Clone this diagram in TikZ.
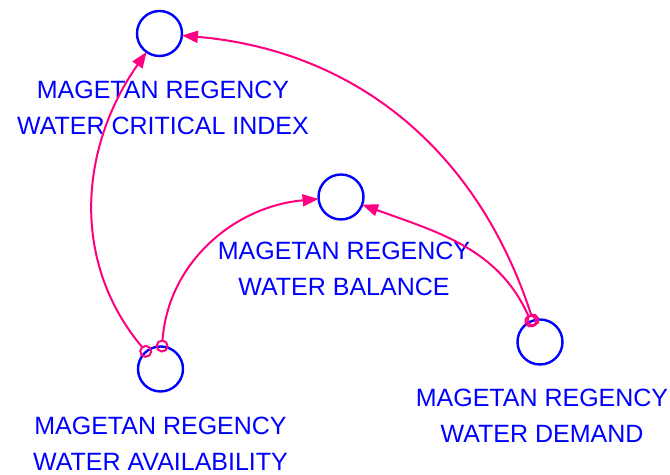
\documentclass[tikz,border=0pt]{standalone}
\usepackage{fontspec}
\setmainfont{Liberation Sans}
\usepackage{xcolor}
\usetikzlibrary{positioning, arrows.meta}
\definecolor{vblue}{RGB}{0,0,255}
\definecolor{vpink}{RGB}{255,0,128}

\begin{document}
\begin{tikzpicture}[x=0.5pt, y=0.5pt,
        var/.style={circle, draw=vblue, line width=1.2pt, minimum size=22.5pt, inner sep=0pt, outer sep=0pt},
        lbl/.style={text=vblue, align=center, inner sep=0pt, outer sep=0pt, font=\fontsize{12.5}{18}\selectfont},
        link/.style={draw=vpink, line width=1pt, {Circle[open,length=6.5pt,width=6.5pt,line width=1pt]}-{Triangle[length=8pt,width=6pt]}, shorten <=-3pt}]
        % Frame
        \useasboundingbox (0,0) rectangle (670,475);

        % Variables
        \node[var] (crit) at (159.5,441.5) {};
        \node[var] (bal) at (341,278) {};
        \node[var] (avail) at (160.5,106) {};
        \node[var] (dem) at (540,133) {};

        % Names under the variables
        \node[lbl, below=12.5pt of crit, xshift=1.75pt] (critname) {MAGETAN REGENCY\\WATER CRITICAL INDEX};
        \node[lbl, below=11.5pt of bal, xshift=1.5pt] (balname) {MAGETAN REGENCY\\WATER BALANCE};
        \node[lbl, below=13pt of avail] (availname) {MAGETAN REGENCY\\WATER AVAILABILITY};
        \node[lbl, below=12.5pt of dem, xshift=1pt] (demname) {MAGETAN REGENCY\\WATER DEMAND};

        % Links
        \draw[link] (avail) to[out=130, in=235] (crit);
        \draw[link] (avail) to[out=86, in=185] (bal);
        \draw[link] (dem) to[out=108, in=355] (crit);
        \draw[link] (dem) to[out=114, in=340] (bal);
    \end{tikzpicture}
\end{document}
